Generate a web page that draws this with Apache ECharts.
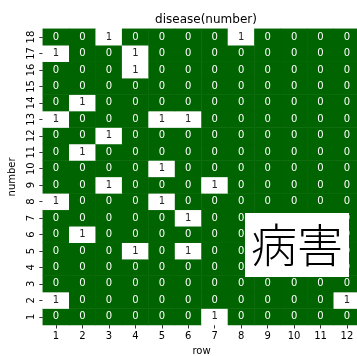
<!DOCTYPE html>
<html>
<head>
<meta charset="utf-8">
<style>html,body{margin:0;padding:0;background:#fff;}#chart{width:357px;height:356px;}</style>
<script src="https://cdn.jsdelivr.net/npm/echarts@6/dist/echarts.min.js"></script>
</head>
<body>
<div id="chart"></div>
<script>
// columns (x axis) and rows (y axis)
const rowLabels = ['1','2','3','4','5','6','7','8','9','10','11','12'];
const numberLabels = ['1','2','3','4','5','6','7','8','9','10','11','12','13','14','15','16','17','18'];

// disease flags, one list per number (1..18), each with 12 columns
const n1  = [0,0,0,0,0,0,1,0,0,0,0,0];
const n2  = [1,0,0,0,0,0,0,0,0,0,0,1];
const n3  = [0,0,0,0,0,0,0,0,0,0,0,0];
const n4  = [0,0,0,0,0,0,0,0,0,0,0,0];
const n5  = [0,0,0,1,0,1,0,0,0,0,0,0];
const n6  = [0,1,0,0,0,0,0,0,0,0,0,0];
const n7  = [0,0,0,0,0,1,0,0,0,0,0,0];
const n8  = [1,0,0,0,1,0,0,0,0,0,0,0];
const n9  = [0,0,1,0,0,0,1,0,0,0,0,0];
const n10 = [0,0,0,0,1,0,0,0,0,0,0,0];
const n11 = [0,1,0,0,0,0,0,0,0,0,0,0];
const n12 = [0,0,1,0,0,0,0,0,0,0,0,0];
const n13 = [1,0,0,0,1,1,0,0,0,0,0,0];
const n14 = [0,1,0,0,0,0,0,0,0,0,0,0];
const n15 = [0,0,0,0,0,0,0,0,0,0,0,0];
const n16 = [0,0,0,1,0,0,0,0,0,0,0,0];
const n17 = [1,0,0,1,0,0,0,0,0,0,0,0];
const n18 = [0,0,1,0,0,0,0,1,0,0,0,0];

const grid = [n1,n2,n3,n4,n5,n6,n7,n8,n9,n10,n11,n12,n13,n14,n15,n16,n17,n18];

const GREEN = '#006400';
const cells = [];
grid.forEach((vals, yi) => {
  vals.forEach((v, xi) => {
    cells.push({
      value: [xi, yi, v],
      label: { color: v ? '#262626' : '#ffffff' }
    });
  });
});

const font = 'DejaVu Sans';
const chart = echarts.init(document.getElementById('chart'), null, { renderer: 'canvas' });
chart.setOption({
  animation: false,
  backgroundColor: '#ffffff',
  title: {
    text: 'disease(number)',
    left: 201, top: 9, textAlign: 'center',
    textStyle: { fontFamily: font, fontSize: 12, fontWeight: 'normal', color: '#000' }
  },
  grid: { left: 42.8, top: 28.8, width: 317.4, height: 296.2, containLabel: false, outerBoundsMode: 'none' },
  xAxis: {
    type: 'category', data: rowLabels,
    name: 'row', nameLocation: 'middle', nameGap: 21,
    nameTextStyle: { fontFamily: font, fontSize: 10, color: '#000' },
    axisLine: { show: false },
    axisTick: { show: true, alignWithLabel: true, interval: 0, length: 3.5, lineStyle: { color: '#000', width: 0.8 } },
    axisLabel: { fontFamily: font, fontSize: 10, color: '#000', margin: 6, interval: 0 },
    splitLine: { show: false }
  },
  yAxis: {
    type: 'category', data: numberLabels,
    name: 'number', nameLocation: 'middle', nameGap: 25,
    nameRotate: 90,
    nameTextStyle: { fontFamily: font, fontSize: 10, color: '#000' },
    axisLine: { show: false },
    axisTick: { show: true, alignWithLabel: true, interval: 0, length: 3.5, lineStyle: { color: '#000', width: 0.8 } },
    axisLabel: { fontFamily: font, fontSize: 10, color: '#000', rotate: 90, margin: 6, interval: 0 },
    splitLine: { show: false }
  },
  visualMap: {
    show: false, type: 'piecewise', dimension: 2,
    pieces: [ { value: 0, color: GREEN }, { value: 1, color: '#ffffff' } ]
  },
  series: [{
    type: 'heatmap',
    data: cells,
    label: { show: true, fontFamily: font, fontSize: 10, formatter: p => String(p.value[2]) },
    itemStyle: { borderWidth: 0 },
    emphasis: { disabled: true }
  }],
  graphic: [{
    type: 'rect',
    shape: { x: 245, y: 213, width: 104, height: 64 },
    style: { fill: '#ffffff' },
    z: 100
  }, {
    type: 'text',
    x: 297, y: 245,
    style: {
      text: '病害', fill: '#000',
      font: '300 46px "Noto Sans CJK JP"',
      align: 'center', verticalAlign: 'middle'
    },
    z: 101
  }]
});
</script>
</body>
</html>
